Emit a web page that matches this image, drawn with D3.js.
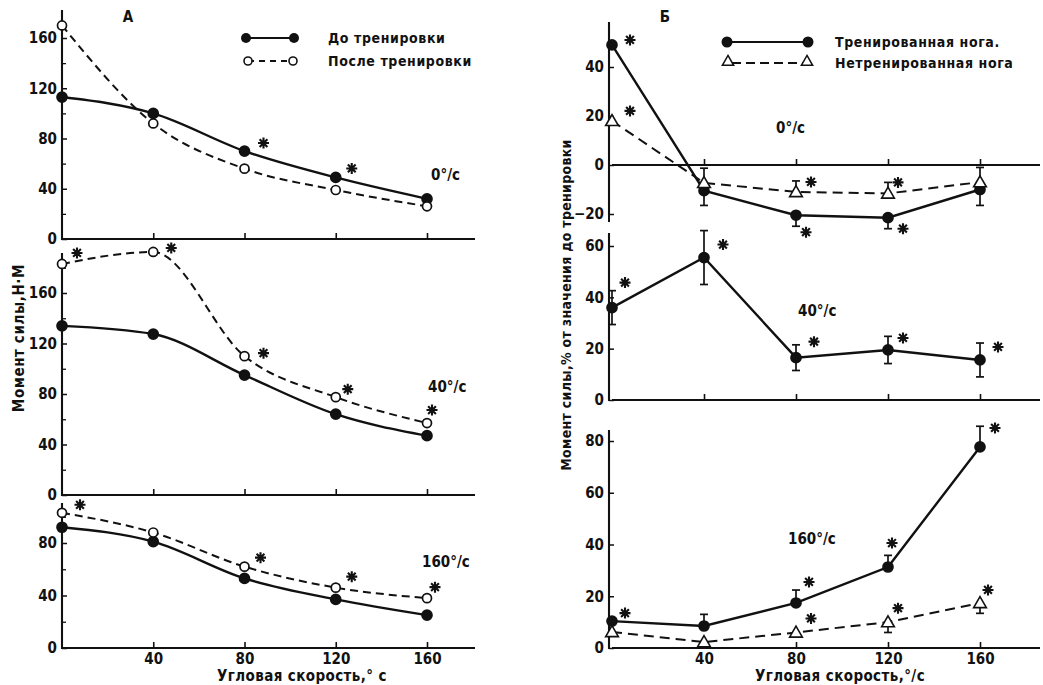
<!DOCTYPE html>
<html><head><meta charset="utf-8">
<script src="https://cdn.jsdelivr.net/npm/d3@7"></script>
<style>
body{margin:0;background:#fff;}
svg text{font-family:"DejaVu Sans Condensed","DejaVu Sans",sans-serif;font-weight:bold;fill:#111;}
</style></head><body><svg id="c" width="1043" height="685"></svg>
<script>
// ---------------- DATA ----------------
const speeds = [0, 40, 80, 120, 160];
const xTickVals = [40, 80, 120, 160];

// Panel A: torque, Н·м
const a0Before  = [113, 100, 70, 49, 32];
const a0After   = [170, 92, 56, 39, 26];
const a40Before = [134, 127.5, 95, 64, 47];
const a40After  = [183, 192.5, 110, 77.5, 57];
const a160Before = [92, 81, 53, 37, 25];
const a160After  = [103, 88, 62, 46, 38];
const a0Stars   = [0, 0, 1, 1, 0];   // on "До"
const a40Stars  = [1, 1, 1, 1, 1];   // on "После"
const a160Stars = [1, 0, 1, 1, 1];   // on "После"

// Panel Б: % of pre-training value
const b0Trained = [49, -10.5, -20.5, -21.5, -10];
const b0TrainedErrDown = [0, 6, 4.5, 4.5, 6.5];
const b0Untrained = [18, -7.3, -11, -11.6, -7];
const b0UntrainedErrUp = [0, 6, 4.5, 4.5, 6];
const b40Trained = [36, 55.5, 16.5, 19.5, 15.6];
const b40TrainedErr = [6.6, 10.5, 5, 5.3, 6.6];
const b160Trained = [10.4, 8.5, 17.4, 31.3, 77.7];
const b160TrainedErrUp = [0, 4.5, 5, 4.5, 8];
const b160Untrained = [6.2, 2.3, 6, 10, 17.4];
const b160UntrainedErrDown = [0, 0, 0, 4, 4];
const b0TrainedStars = [1, 0, 1, 1, 0];
const b0UntrainedStars = [1, 0, 1, 1, 0];
const b40Stars = [1, 1, 1, 1, 1];
const b160TrainedStars = [1, 0, 1, 1, 1];
const b160UntrainedStars = [0, 0, 1, 1, 1];

const legendA = ["До тренировки", "После тренировки"];
const legendB = ["Тренированная нога.", "Нетренированная нога"];
const speedLabels = ["0°/с", "40°/с", "160°/с"];

// ---------------- LAYOUT / STYLE ----------------
const svg = d3.select("#c");
const INK = "#111";
const xA = d3.scaleLinear([0, 160], [62, 427]);
const xB = d3.scaleLinear([0, 160], [612, 980]);
const xAEnd = 475, xBEnd = 1040;

// star offsets (px) per star, in order of flagged points
const starOffsets = {
  a0: [[19, -8], [16, -9]],
  a40: [[15, -11], [18, -4], [19, -3], [12, -8], [5, -13]],
  a160: [[18, -8], [16, -9], [16, -11], [8, -11]],
  b0T: [[18, -5], [10, 17], [15, 11]],
  b0U: [[18, -10], [15, -10], [10, -11]],
  b40: [[13, -25], [19, -13], [18, -16], [15, -12], [18, -13]],
  b160T: [[13, -8], [13, -21], [4, -24], [15, -19]],
  b160U: [[15, -14], [10, -14], [8, -13]]
};

function star(g, cx, cy) {
  const r = 5.5;
  const p = d3.path();
  [0, 45, 90, 135].forEach(a => {
    const t = a * Math.PI / 180;
    p.moveTo(cx - r * Math.cos(t), cy - r * Math.sin(t));
    p.lineTo(cx + r * Math.cos(t), cy + r * Math.sin(t));
  });
  g.append("path").attr("d", p.toString()).attr("stroke", INK).attr("stroke-width", 2.1).attr("fill", "none");
}

function drawStars(g, x, y, vals, flags, offs) {
  let k = 0;
  flags.forEach((f, i) => {
    if (!f) return;
    const o = offs[k++] || [15, -9];
    star(g, x(speeds[i]) + o[0], y(vals[i]) + o[1]);
  });
}

function yAxis(g, y, x0, top, majors, minors) {
  const ax = g.append("g").attr("transform", `translate(${x0},0)`)
    .call(d3.axisLeft(y).tickValues(majors).tickSize(-5).tickPadding(5));
  ax.select(".domain").remove();
  ax.selectAll("line").attr("stroke", INK).attr("stroke-width", 1.5);
  ax.selectAll("text").attr("font-size", 15).attr("font-family", null).attr("fill", INK);
  if (minors && minors.length) {
    const mi = g.append("g").attr("transform", `translate(${x0},0)`)
      .call(d3.axisLeft(y).tickValues(minors).tickSize(-4).tickFormat(""));
    mi.select(".domain").remove();
    mi.selectAll("line").attr("stroke", INK).attr("stroke-width", 1.3);
  }
  g.append("line").attr("x1", x0).attr("x2", x0).attr("y1", y(y.domain()[0]) + 1).attr("y2", top)
    .attr("stroke", INK).attr("stroke-width", 2.1);
}

function xAxis(g, x, yPix, xEnd, showLabels) {
  const ax = g.append("g").attr("transform", `translate(0,${yPix})`)
    .call(d3.axisBottom(x).tickValues(xTickVals).tickSize(-6).tickPadding(5)
      .tickFormat(showLabels ? (d => d) : ""));
  ax.select(".domain").remove();
  ax.selectAll("line").attr("stroke", INK).attr("stroke-width", 1.6);
  ax.selectAll("text").attr("font-size", 15).attr("font-family", null).attr("fill", INK);
  g.append("line").attr("x1", x.range()[0]).attr("x2", xEnd).attr("y1", yPix).attr("y2", yPix)
    .attr("stroke", INK).attr("stroke-width", 1.9);
}

function seriesLine(g, x, y, vals, curve, dashed) {
  const line = d3.line().x((d, i) => x(speeds[i])).y(d => y(d)).curve(curve);
  g.append("path").attr("d", line(vals)).attr("fill", "none").attr("stroke", INK)
    .attr("stroke-width", dashed ? 2 : 2.4)
    .attr("stroke-dasharray", dashed ? dashed : null);
}

function dots(g, x, y, vals, filled) {
  g.selectAll(null).data(vals).join("circle")
    .attr("cx", (d, i) => x(speeds[i])).attr("cy", d => y(d))
    .attr("r", filled ? 5 : 4.5)
    .attr("fill", filled ? INK : "#fff").attr("stroke", INK).attr("stroke-width", 1.7);
}

const triPath = d3.symbol(d3.symbolTriangle, 70);
function tris(g, x, y, vals) {
  g.selectAll(null).data(vals).join("path")
    .attr("d", triPath)
    .attr("transform", (d, i) => `translate(${x(speeds[i])},${y(d) + 1})`)
    .attr("fill", "#fff").attr("stroke", INK).attr("stroke-width", 1.6);
}

function errBars(g, x, y, vals, up, down) {
  vals.forEach((v, i) => {
    const u = up ? up[i] : 0, dn = down ? down[i] : 0;
    if (!u && !dn) return;
    const cx = x(speeds[i]);
    const y1 = y(v + u), y2 = y(v - dn);
    g.append("line").attr("x1", cx).attr("x2", cx).attr("y1", y1).attr("y2", y2)
      .attr("stroke", INK).attr("stroke-width", 1.7);
    if (u) g.append("line").attr("x1", cx - 4).attr("x2", cx + 4).attr("y1", y1).attr("y2", y1)
      .attr("stroke", INK).attr("stroke-width", 1.7);
    if (dn) g.append("line").attr("x1", cx - 4).attr("x2", cx + 4).attr("y1", y2).attr("y2", y2)
      .attr("stroke", INK).attr("stroke-width", 1.7);
  });
}

function text(x, y, s, size, anchor, extra) {
  const t = svg.append("text").attr("x", x).attr("y", y).text(s)
    .attr("font-size", size).attr("text-anchor", anchor || "start");
  if (extra) extra(t);
  return t;
}

const smooth = d3.curveMonotoneX;
const DASH_A = "8,5";
const DASH_B = "10,6";

// ---------------- PANEL A ----------------
const gA = svg.append("g");
// top: 0°/с
const yA0 = d3.scaleLinear([0, 160], [239, 38]);
yAxis(gA, yA0, 62, 10, [0, 40, 80, 120, 160], [20, 60, 100, 140]);
xAxis(gA, xA, yA0(0), xAEnd, false);
seriesLine(gA, xA, yA0, a0Before, smooth, null);
seriesLine(gA, xA, yA0, a0After, smooth, DASH_A);
dots(gA, xA, yA0, a0Before, true);
dots(gA, xA, yA0, a0After, false);
drawStars(gA, xA, yA0, a0Before, a0Stars, starOffsets.a0);
text(431, 180, speedLabels[0], 15);

// middle: 40°/с
const yA40 = d3.scaleLinear([0, 160], [495, 293]);
yAxis(gA, yA40, 62, 253, [0, 40, 80, 120, 160], [20, 60, 100, 140, 180]);
xAxis(gA, xA, yA40(0), xAEnd, false);
seriesLine(gA, xA, yA40, a40Before, smooth, null);
seriesLine(gA, xA, yA40, a40After, smooth, DASH_A);
dots(gA, xA, yA40, a40Before, true);
dots(gA, xA, yA40, a40After, false);
drawStars(gA, xA, yA40, a40After, a40Stars, starOffsets.a40);
text(428, 392, speedLabels[1], 15);

// bottom: 160°/с
const yA160 = d3.scaleLinear([0, 80], [648, 543]);
yAxis(gA, yA160, 62, 503, [0, 40, 80], [20, 60, 100]);
xAxis(gA, xA, yA160(0), xAEnd, true);
seriesLine(gA, xA, yA160, a160Before, smooth, null);
seriesLine(gA, xA, yA160, a160After, smooth, DASH_A);
dots(gA, xA, yA160, a160Before, true);
dots(gA, xA, yA160, a160After, false);
drawStars(gA, xA, yA160, a160After, a160Stars, starOffsets.a160);
text(422, 567, speedLabels[2], 15);

text(302, 681, "Угловая скорость,° с", 15, "middle", t => t.attr("letter-spacing", 0.4));
text(0, 0, "Момент силы,Н·М", 15, "middle", t => t.attr("letter-spacing", 0.6).attr("transform", "translate(24,338) rotate(-90)"));
text(128, 22, "А", 15, "middle");

// legend A
gA.append("line").attr("x1", 246).attr("x2", 294).attr("y1", 38).attr("y2", 38).attr("stroke", INK).attr("stroke-width", 2.2);
gA.selectAll(null).data([246, 294]).join("circle").attr("cx", d => d).attr("cy", 38).attr("r", 5).attr("fill", INK);
gA.append("line").attr("x1", 248).attr("x2", 293).attr("y1", 61).attr("y2", 61).attr("stroke", INK).attr("stroke-width", 1.8).attr("stroke-dasharray", "6,5");
gA.selectAll(null).data([248, 293]).join("circle").attr("cx", d => d).attr("cy", 61).attr("r", 4).attr("fill", "#fff").attr("stroke", INK).attr("stroke-width", 1.6);
text(328, 43, legendA[0], 14, "start", t => t.attr("letter-spacing", 0.6));
text(328, 66, legendA[1], 14, "start", t => t.attr("letter-spacing", 0.6));

// ---------------- PANEL Б ----------------
const gB = svg.append("g");
// top: 0°/с
const yB0 = d3.scaleLinear([-20, 40], [214, 67]);
yAxis(gB, yB0, 609, 22, [-20, 0, 20, 40], []);
gB.append("line").attr("x1", 609).attr("x2", 609).attr("y1", yB0(-20)).attr("y2", yB0(-20) + 8).attr("stroke", INK).attr("stroke-width", 2);
xAxis(gB, xB, yB0(0), xBEnd, false);
errBars(gB, xB, yB0, b0Trained, null, b0TrainedErrDown);
errBars(gB, xB, yB0, b0Untrained, b0UntrainedErrUp, null);
seriesLine(gB, xB, yB0, b0Trained, d3.curveLinear, null);
seriesLine(gB, xB, yB0, b0Untrained, d3.curveLinear, DASH_B);
dots(gB, xB, yB0, b0Trained, true);
tris(gB, xB, yB0, b0Untrained);
drawStars(gB, xB, yB0, b0Trained, b0TrainedStars, starOffsets.b0T);
drawStars(gB, xB, yB0, b0Untrained, b0UntrainedStars, starOffsets.b0U);
text(776, 133, speedLabels[0], 15);

// middle: 40°/с
const yB40 = d3.scaleLinear([0, 60], [400, 246]);
yAxis(gB, yB40, 609, 233, [0, 20, 40, 60], []);
xAxis(gB, xB, yB40(0), xBEnd, false);
errBars(gB, xB, yB40, b40Trained, b40TrainedErr, b40TrainedErr);
seriesLine(gB, xB, yB40, b40Trained, d3.curveLinear, null);
dots(gB, xB, yB40, b40Trained, true);
drawStars(gB, xB, yB40, b40Trained, b40Stars, starOffsets.b40);
text(798, 316, speedLabels[1], 15);

// bottom: 160°/с
const yB160 = d3.scaleLinear([0, 80], [648, 441]);
yAxis(gB, yB160, 609, 430, [0, 20, 40, 60, 80], []);
xAxis(gB, xB, yB160(0), xBEnd, true);
errBars(gB, xB, yB160, b160Trained, b160TrainedErrUp, null);
errBars(gB, xB, yB160, b160Untrained, null, b160UntrainedErrDown);
seriesLine(gB, xB, yB160, b160Trained, d3.curveLinear, null);
seriesLine(gB, xB, yB160, b160Untrained, d3.curveLinear, DASH_B);
dots(gB, xB, yB160, b160Trained, true);
tris(gB, xB, yB160, b160Untrained);
drawStars(gB, xB, yB160, b160Trained, b160TrainedStars, starOffsets.b160T);
drawStars(gB, xB, yB160, b160Untrained, b160UntrainedStars, starOffsets.b160U);
text(788, 544, speedLabels[2], 15);

text(840, 681, "Угловая скорость,°/с", 15, "middle", t => t.attr("letter-spacing", 0.4));
text(0, 0, "Момент силы,% от значения до тренировки", 14, "middle", t => t.attr("letter-spacing", 0.3).attr("transform", "translate(571,305) rotate(-90)"));
text(665, 22, "Б", 15, "middle");

// legend B
gB.append("line").attr("x1", 727).attr("x2", 808).attr("y1", 42).attr("y2", 42).attr("stroke", INK).attr("stroke-width", 2.2);
gB.selectAll(null).data([727, 808]).join("circle").attr("cx", d => d).attr("cy", 42).attr("r", 5.5).attr("fill", INK);
gB.append("line").attr("x1", 732).attr("x2", 803).attr("y1", 63).attr("y2", 63).attr("stroke", INK).attr("stroke-width", 1.8).attr("stroke-dasharray", "9,5");
gB.selectAll(null).data([728, 807]).join("path").attr("d", d3.symbol(d3.symbolTriangle, 55))
  .attr("transform", d => `translate(${d},62)`).attr("fill", "#fff").attr("stroke", INK).attr("stroke-width", 1.5);
text(835, 47, legendB[0], 14, "start", t => t.attr("letter-spacing", 0.6));
text(835, 68, legendB[1], 14, "start", t => t.attr("letter-spacing", 0.6));
</script></body></html>
